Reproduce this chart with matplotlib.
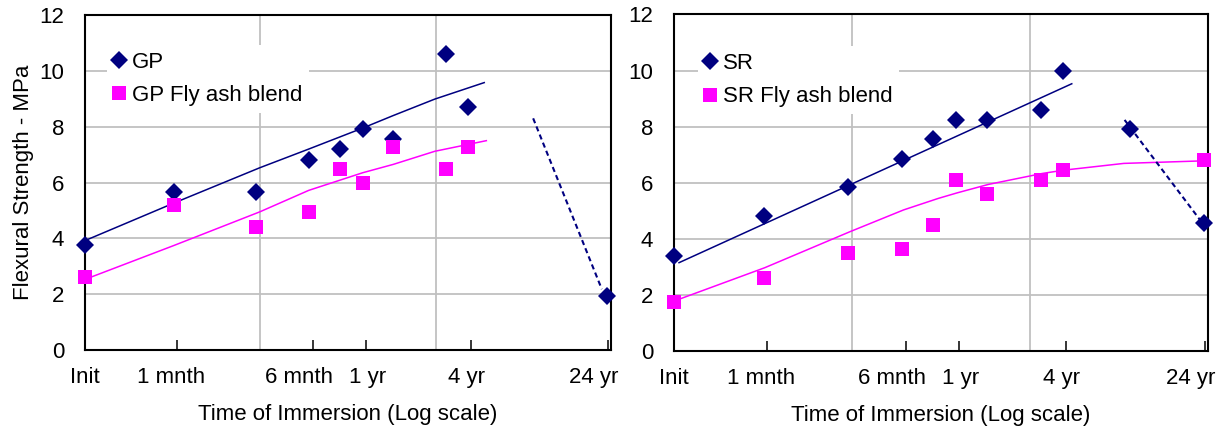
import matplotlib
matplotlib.use('Agg')
import matplotlib.pyplot as plt
from matplotlib.ticker import FixedLocator, NullFormatter

plt.rcParams['font.family'] = ['Liberation Sans', 'DejaVu Sans']
plt.rcParams['font.size'] = 16

# Time of immersion in months (log axis).
t_months = [0.3, 0.96, 2.85, 5.7, 8.6, 11.5, 17.2, 34.5, 46.0]
t_24yr = 285
t_9yr = 110

# tick marks and the (slightly offset) label positions
tick_pos = [1, 6, 12, 48, 288]
label_pos = [0.3, 0.93, 5.0, 12.2, 45, 240]
tick_labels = ['Init', '1 mnth', '6 mnth', '1 yr', '4 yr', '24 yr']
decade_lines = [3, 30]

# GP panel
gp = [3.78, 5.67, 5.67, 6.8, 7.2, 7.93, 7.55, 10.6, 8.7]
gp_24yr = 1.95
gp_fa = [2.6, 5.19, 4.42, 4.93, 6.5, 5.97, 7.29, 6.5, 7.29]

gp_trend_x = [0.3, 0.96, 2.98, 5.67, 11.5, 17.2, 29.7, 56.8]
gp_trend_y = [3.92, 5.26, 6.53, 7.2, 7.95, 8.4, 8.99, 9.58]
gp_fa_trend_x = [0.3, 0.96, 2.98, 5.67, 11.5, 17.2, 29.7, 58.4]
gp_fa_trend_y = [2.53, 3.74, 4.95, 5.72, 6.35, 6.65, 7.12, 7.5]
gp_dash_x = [108, 266]
gp_dash_y = [8.3, 2.18]

# SR panel
sr = [3.4, 4.8, 5.85, 6.86, 7.55, 8.25, 8.25, 8.6, 10.0]
sr_late = [7.9, 4.55]
sr_fa = [1.75, 2.6, 3.5, 3.65, 4.5, 6.1, 5.6, 6.1, 6.45]
sr_fa_24yr = 6.8

sr_trend_x = [0.32, 51.5]
sr_trend_y = [3.15, 9.53]
sr_fa_trend_x = [0.3, 0.97, 2.91, 5.84, 9.14, 11.7, 17.5, 35.1, 46.6, 101, 279, 300]
sr_fa_trend_y = [1.78, 2.97, 4.25, 5.03, 5.44, 5.64, 5.94, 6.33, 6.45, 6.69, 6.78, 6.8]
sr_dash_x = [102, 271]
sr_dash_y = [8.24, 4.67]

navy = '#000080'
magenta = '#FF00FF'
grid_col = '#C0C0C0'


def style_axes(ax):
    ax.set_xscale('log')
    ax.set_xlim(0.3, 300)
    ax.set_ylim(0, 12)
    ax.set_yticks(range(0, 13, 2))
    # major ticks = the small inward marks, minor ticks = the labels
    ax.xaxis.set_major_locator(FixedLocator(tick_pos))
    ax.xaxis.set_major_formatter(NullFormatter())
    ax.xaxis.set_minor_locator(FixedLocator(label_pos))
    ax.set_xticklabels(tick_labels, minor=True)
    ax.tick_params(axis='x', which='major', direction='in', length=7, width=1.1)
    ax.tick_params(axis='x', which='minor', length=0, pad=12)
    ax.tick_params(axis='y', length=0, pad=15)
    ax.grid(axis='y', which='major', color=grid_col, lw=1.3)
    for d in decade_lines:
        ax.axvline(d, color=grid_col, lw=1.3, zorder=0.5)
    ax.set_axisbelow(True)
    for s in ax.spines.values():
        s.set_linewidth(1.5)
    ax.set_xlabel('Time of Immersion (Log scale)', labelpad=12)


fig = plt.figure(figsize=(12.3, 4.3), dpi=100)
ax1 = fig.add_axes([0.0691, 0.186, 0.4276, 0.779])
ax2 = fig.add_axes([0.548, 0.1837, 0.4341, 0.7826])

leg_kw = dict(loc='upper left', borderaxespad=0, frameon=True,
              facecolor='white', edgecolor='none', framealpha=1,
              fancybox=False, borderpad=0.3, handlelength=0.5,
              handletextpad=0.33, labelspacing=0.55)

# Left: GP
ax1.plot(gp_trend_x, gp_trend_y, color=navy, lw=1.1)
ax1.plot(gp_fa_trend_x, gp_fa_trend_y, color=magenta, lw=1.1)
ax1.plot(gp_dash_x, gp_dash_y, color=navy, lw=1.5, ls=(0, (2.5, 1.7)))
ax1.plot(t_months + [t_24yr], gp + [gp_24yr], 'D', color=navy, ms=9.2, mew=0,
         clip_on=False, zorder=3, label='GP')
ax1.plot(t_months, gp_fa, 's', color=magenta, ms=9.4, mew=0, clip_on=False,
         zorder=4, label='GP Fly ash blend')
style_axes(ax1)
ax1.set_ylabel('Flexural Strength - MPa', labelpad=4)
ax1.legend(bbox_to_anchor=(0.042, 0.91), **leg_kw)

# Right: SR
ax2.plot(sr_trend_x, sr_trend_y, color=navy, lw=1.1)
ax2.plot(sr_fa_trend_x, sr_fa_trend_y, color=magenta, lw=1.1)
ax2.plot(sr_dash_x, sr_dash_y, color=navy, lw=1.5, ls=(0, (2.5, 1.7)))
ax2.plot(t_months + [t_9yr, t_24yr], sr + sr_late, 'D', color=navy, ms=9.2,
         mew=0, clip_on=False, zorder=3, label='SR')
ax2.plot(t_months + [t_24yr], sr_fa + [sr_fa_24yr], 's', color=magenta, ms=9.4,
         mew=0, clip_on=False, zorder=4, label='SR Fly ash blend')
style_axes(ax2)
ax2.legend(bbox_to_anchor=(0.045, 0.905), **leg_kw)

plt.savefig('out.png', dpi=100)
